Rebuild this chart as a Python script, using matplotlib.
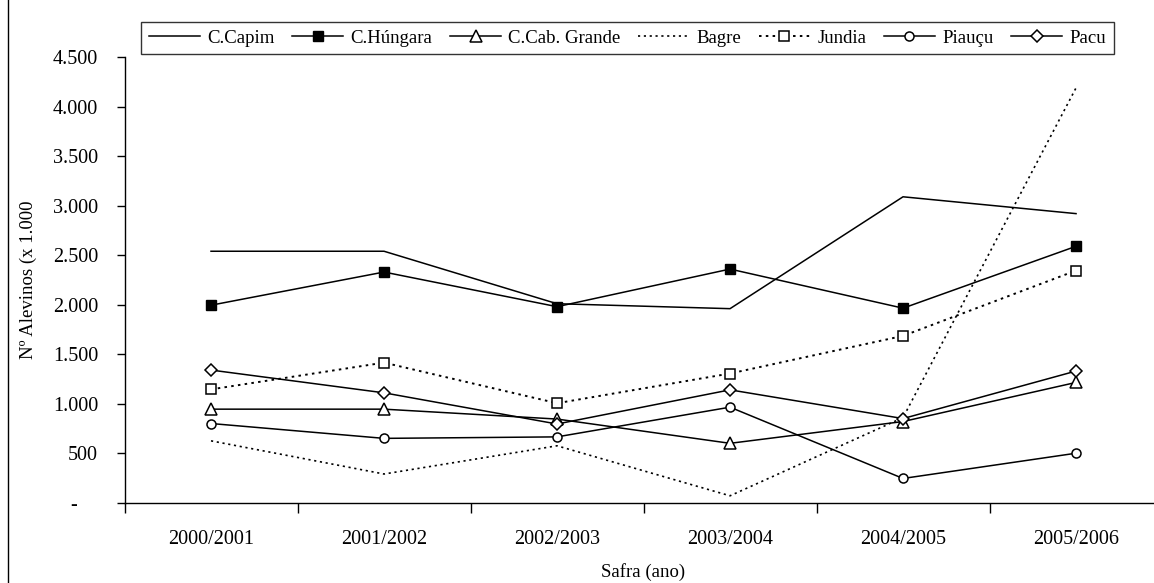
import matplotlib
matplotlib.use('Agg')
import matplotlib.pyplot as plt
from matplotlib.ticker import FixedLocator, FuncFormatter
from matplotlib.lines import Line2D

plt.rcParams['font.family'] = ['Liberation Serif', 'DejaVu Serif']

safras = ['2000/2001', '2001/2002', '2002/2003', '2003/2004', '2004/2005', '2005/2006']

capim = [2540, 2540, 2010, 1960, 3090, 2920]
hungara = [1995, 2330, 1980, 2360, 1965, 2590]
cab_grande = [945, 945, 845, 600, 820, 1215]
bagre = [625, 290, 575, 70, 860, 4190]
jundia = [1145, 1415, 1005, 1305, 1685, 2345]
piaucu = [800, 650, 665, 965, 245, 500]
pacu = [1340, 1110, 795, 1140, 850, 1330]

fig = plt.figure(figsize=(11.54, 5.83), dpi=100)
ax = fig.add_axes([0.1079, 0.1377, 0.8995, 0.7642])

x = list(range(len(safras)))
dots = (0, (1.3, 2.2))

ax.plot(x, capim, color='black', lw=1.1, label='C.Capim')
ax.plot(x, hungara, color='black', lw=1.1, marker='s', ms=7.5,
        mfc='black', mec='black', label='C.Húngara')
ax.plot(x, cab_grande, color='black', lw=1.1, marker='^', ms=8.5,
        mfc='white', mec='black', mew=1.1, label='C.Cab. Grande')
ax.plot(x, bagre, color='black', lw=1.2, ls=dots, label='Bagre')
ax.plot(x, jundia, color='black', lw=1.4, ls=dots, marker='s', ms=7,
        mfc='white', mec='black', mew=1.1, label='Jundia')
ax.plot(x, piaucu, color='black', lw=1.1, marker='o', ms=6.5,
        mfc='white', mec='black', mew=1.1, label='Piauçu')
ax.plot(x, pacu, color='black', lw=1.1, marker='D', ms=6.5,
        mfc='white', mec='black', mew=1.1, label='Pacu')

ax.set_xlim(-0.5, len(safras) - 0.5)
ax.set_ylim(0, 4500)

# y axis, accounting style labels
ax.set_yticks(range(0, 4501, 500))
ax.yaxis.set_major_formatter(FuncFormatter(
    lambda v, p: '-    ' if v == 0 else f'{v:,.0f}'.replace(',', '.')))
ax.tick_params(axis='y', direction='out', length=6, width=1, pad=13,
               labelsize=14.5)

# x axis: ticks between categories, labels at centres
ax.xaxis.set_major_locator(FixedLocator([i - 0.5 for i in range(len(safras) + 1)]))
ax.xaxis.set_minor_locator(FixedLocator(x))
ax.set_xticklabels([], minor=False)
ax.set_xticklabels(safras, minor=True)
ax.tick_params(axis='x', which='major', direction='out', length=7, width=1)
ax.tick_params(axis='x', which='minor', length=0, pad=20, labelsize=14.5)

for s in ['top', 'right']:
    ax.spines[s].set_visible(False)
for s in ['left', 'bottom']:
    ax.spines[s].set_linewidth(1)

ax.set_ylabel('Nº Alevinos (x 1.000', fontsize=13.5)
ax.yaxis.set_label_coords(-0.084, 0.5)
ax.set_xlabel('Safra (ano)', fontsize=13.5)
ax.xaxis.set_label_coords(0.5, -0.136)

leg = ax.legend(ncol=7, loc='upper center', bbox_to_anchor=(0.4846, 1.080),
                fontsize=13.5, frameon=True, fancybox=False, edgecolor='black',
                handlelength=2.7, handletextpad=0.4, columnspacing=0.95,
                borderpad=0.42, borderaxespad=0, numpoints=1)
leg.get_frame().set_linewidth(1)

# chart area border (left edge visible)
fig.add_artist(Line2D([8 / 1154, 8 / 1154], [0, 1], transform=fig.transFigure,
                      color='black', lw=1))

fig.savefig('out.png', dpi=100)
